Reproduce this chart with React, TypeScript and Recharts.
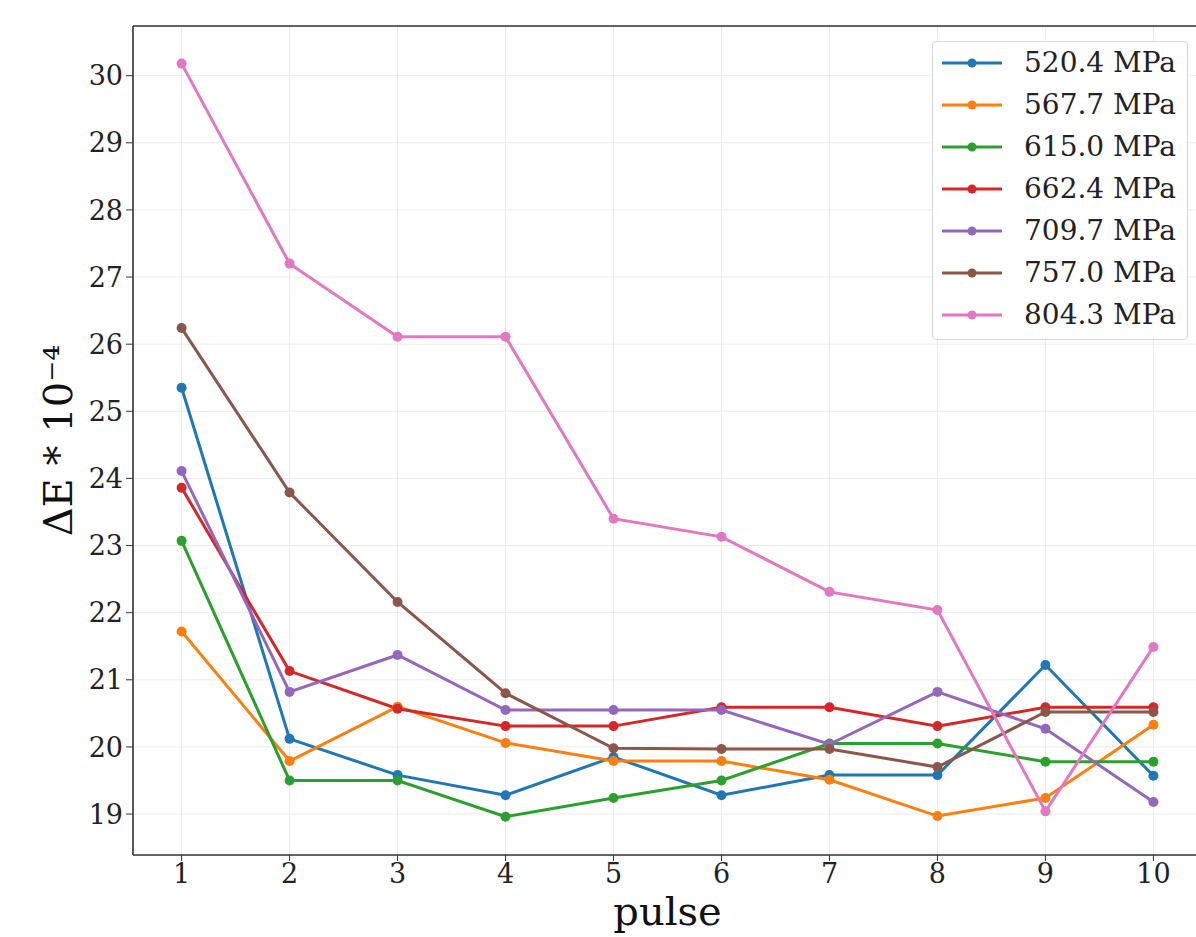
import { LineChart, Line, XAxis, YAxis, CartesianGrid, Legend, ReferenceLine } from 'recharts';

const pulses = [1, 2, 3, 4, 5, 6, 7, 8, 9, 10];

const s520 = [25.35, 20.12, 19.58, 19.28, 19.85, 19.28, 19.58, 19.58, 21.22, 19.57];
const s567 = [21.72, 19.79, 20.6, 20.06, 19.79, 19.79, 19.51, 18.97, 19.24, 20.33];
const s615 = [23.07, 19.5, 19.5, 18.96, 19.24, 19.5, 20.05, 20.05, 19.78, 19.78];
const s662 = [23.86, 21.13, 20.57, 20.31, 20.31, 20.59, 20.59, 20.31, 20.59, 20.59];
const s709 = [24.11, 20.82, 21.37, 20.55, 20.55, 20.55, 20.04, 20.82, 20.27, 19.18];
const s757 = [26.24, 23.79, 22.16, 20.8, 19.98, 19.97, 19.97, 19.7, 20.52, 20.52];
const s804 = [30.18, 27.2, 26.11, 26.11, 23.4, 23.13, 22.31, 22.04, 19.04, 21.49];

const seriesNames = ['520.4 MPa', '567.7 MPa', '615.0 MPa', '662.4 MPa', '709.7 MPa', '757.0 MPa', '804.3 MPa'];
const seriesValues = [s520, s567, s615, s662, s709, s757, s804];
const colors = ['#1f77b4', '#ff7f0e', '#2ca02c', '#d62728', '#9467bd', '#8c564b', '#e377c2'];

const yTicks = [19, 20, 21, 22, 23, 24, 25, 26, 27, 28, 29, 30];
const xDomain = [0.55, 10.45];
const yDomain = [18.39, 30.74];

const data = pulses.map((p, i) => {
  const row: Record<string, number> = { pulse: p };
  seriesNames.forEach((name, k) => {
    row[name] = seriesValues[k][i];
  });
  return row;
});

const FONT = '"DejaVu Serif", serif';

function LegendBox() {
  return (
    <div
      style={{
        width: 254,
        height: 297,
        border: '1px solid #d6d6d6',
        borderRadius: 4,
        background: 'rgba(255,255,255,0.85)',
      }}
    >
      {seriesNames.map((name, k) => (
        <div key={name} style={{ height: 42, display: 'flex', alignItems: 'center' }}>
          <svg width={80} height={12} style={{ marginLeft: 9 }}>
            <line x1={0} y1={6} x2={60} y2={6} stroke={colors[k]} strokeWidth={3} />
            <circle cx={30} cy={6} r={4.5} fill={colors[k]} />
          </svg>
          <span style={{ fontFamily: FONT, fontSize: 28, color: '#222', marginLeft: 2, lineHeight: '42px' }}>{name}</span>
        </div>
      ))}
    </div>
  );
}

function YLabel(props: any) {
  const vb = props.viewBox;
  const cy = vb.y + vb.height / 2;
  return (
    <text
      x={72}
      y={cy}
      transform={`rotate(-90, 72, ${cy})`}
      textAnchor="middle"
      fontFamily={FONT}
      fontSize={40}
      fill="#111"
    >
      ΔE * 10⁻⁴
    </text>
  );
}

function XLabel(props: any) {
  const vb = props.viewBox;
  return (
    <text x={vb.x + vb.width / 2} y={925} textAnchor="middle" fontFamily={FONT} fontSize={40} fill="#111">
      pulse
    </text>
  );
}

export default function App() {
  return (
    <div style={{ position: 'absolute', left: 0, top: 0, width: 1196, height: 937, overflow: 'hidden', background: '#fff' }}>
      <LineChart width={1210} height={937} data={data} margin={{ top: 26, right: 8, bottom: 0, left: 0 }}>
        <CartesianGrid stroke="#ebebeb" strokeWidth={1} />
        <XAxis
          dataKey="pulse"
          type="number"
          domain={xDomain}
          ticks={pulses}
          allowDataOverflow
          height={82}
          tickSize={6}
          tickMargin={3}
          tick={{ fill: '#222', fontSize: 27, fontFamily: FONT }}
          axisLine={{ stroke: '#333', strokeWidth: 1.6 }}
          tickLine={{ stroke: '#333' }}
          label={<XLabel />}
        />
        <YAxis
          type="number"
          domain={yDomain}
          ticks={yTicks}
          allowDataOverflow
          width={133}
          tickSize={7}
          tickMargin={3}
          tick={{ fill: '#222', fontSize: 27, fontFamily: FONT }}
          axisLine={{ stroke: '#333', strokeWidth: 1.6 }}
          tickLine={{ stroke: '#333' }}
          label={<YLabel />}
        />
        <ReferenceLine y={yDomain[1]} stroke="#333" strokeWidth={1.6} ifOverflow="extendDomain" />
        {seriesNames.map((name, k) => (
          <Line
            key={name}
            dataKey={name}
            name={name}
            stroke={colors[k]}
            strokeWidth={3}
            dot={{ r: 5, fill: colors[k], stroke: colors[k], strokeWidth: 0 }}
            activeDot={false}
            isAnimationActive={false}
          />
        ))}
        <Legend
          layout="vertical"
          verticalAlign="middle"
          align="center"
          wrapperStyle={{ top: 41, left: 932, width: 256 }}
          content={<LegendBox />}
        />
      </LineChart>
    </div>
  );
}
